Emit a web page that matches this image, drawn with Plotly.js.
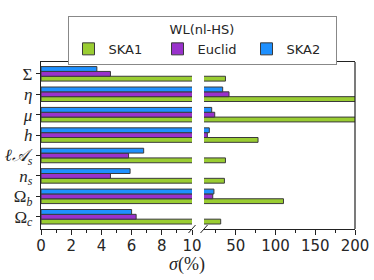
<!DOCTYPE html>
<html>
<head>
<meta charset="utf-8">
<script src="https://cdn.plot.ly/plotly-3.0.1.min.js"></script>
<style>html,body{margin:0;padding:0;background:#fff;}#chart{width:374px;height:280px;}</style>
</head>
<body>
<div id="chart"></div>
<script>
// Parameters, top to bottom as shown
const categories = ["Σ", "<i>η</i>", "<i>μ</i>", "<i>h</i>", "<i>ℓ𝒜<sub>s</sub></i>", "<i>n<sub>s</sub></i>", "Ω<sub><i>b</i></sub>", "Ω<sub><i>c</i></sub>"];
const seriesNames = ["SKA1", "Euclid", "SKA2"];
const ska1   = [37, 260, 260, 78, 37, 35.7, 110, 31];
const euclid = [4.6, 41.5, 23.5, 14.2, 5.8, 4.6, 21, 6.3];
const ska2   = [3.7, 33.5, 19.7, 16.7, 6.8, 5.9, 22.5, 6.0];
const colors = ["#9acd32", "#9932cc", "#1e90ff"];
const leftTicks = [0, 2, 4, 6, 8, 10];
const rightTicks = [50, 100, 150, 200];
const rightMinor = [25, 75, 125, 175];

const values = [ska1, euclid, ska2];
const W = 374, H = 280, L = 41, R = 19, T = 62, B = 51;
const pw = W - L - R, ph = H - T - B;
const fx = px => (px - L) / pw;
const fy = py => (H - B - py) / ph;

const traces = [];
["x", "x2"].forEach((xa, k) => {
  values.forEach((v, i) => {
    traces.push({
      type: "bar", orientation: "h",
      x: v, y: categories, xaxis: xa, yaxis: "y",
      name: seriesNames[i], legendgroup: seriesNames[i],
      showlegend: k === 0,
      marker: {color: colors[i], line: {color: "#3a3a3a", width: 1}},
      hoverinfo: "skip"
    });
  });
});

const axisCommon = {
  showline: true, mirror: true, linecolor: "#222", linewidth: 1.2,
  ticks: "outside", ticklen: 5, tickwidth: 1, tickcolor: "#222",
  showgrid: false, zeroline: false, ticklabelstandoff: -2,
  tickfont: {family: "DejaVu Sans", size: 15, color: "#262626"}
};

const splitL = fx(192), splitR = fx(204);

function slash(cx, cy) {
  return {type: "line", xref: "paper", yref: "paper",
    x0: fx(cx - 3.5), y0: fy(cy + 4), x1: fx(cx + 3.5), y1: fy(cy - 4),
    line: {color: "#222", width: 1}};
}

const layout = {
  width: W, height: H,
  margin: {l: L, r: R, t: T, b: B},
  paper_bgcolor: "#fff", plot_bgcolor: "#fff",
  barmode: "group", bargap: 0.29, bargroupgap: 0,
  showlegend: true,
  legend: {
    orientation: "h", xref: "paper", yref: "paper",
    x: fx(202), xanchor: "center", y: fy(16), yanchor: "top",
    bordercolor: "#888", borderwidth: 1, bgcolor: "#fff",
    font: {family: "DejaVu Sans", size: 13, color: "#262626"},
    title: {text: "WL(nl-HS)", side: "top center", font: {family: "DejaVu Sans", size: 13, color: "#262626"}},
    entrywidth: 44, entrywidthmode: "pixels", traceorder: "normal", itemclick: false
  },
  xaxis: Object.assign({}, axisCommon, {
    domain: [0, splitL], range: [0, 10], anchor: "y",
    tickvals: leftTicks, ticktext: leftTicks.map(String),
    minor: {dtick: 1, ticks: "outside", ticklen: 3, tickcolor: "#222"}
  }),
  xaxis2: Object.assign({}, axisCommon, {
    domain: [splitR, 1], range: [10, 200], anchor: "y",
    tickvals: rightTicks, ticktext: rightTicks.map(String),
    minor: {tickvals: rightMinor, ticks: "outside", ticklen: 3, tickcolor: "#222"}
  }),
  yaxis: {
    type: "category", categoryorder: "array", categoryarray: categories.slice().reverse(),
    tickmode: "array", tickvals: categories, ticktext: categories,
    range: [-0.6, 7.58], anchor: "x",
    showline: true, linecolor: "#222", linewidth: 1.2, mirror: false,
    ticks: "outside", ticklen: 4, tickcolor: "#222", showgrid: false, zeroline: false,
    tickfont: {family: "Liberation Serif", size: 17, color: "#262626"}
  },
  shapes: [
    {type: "line", xref: "paper", yref: "paper", x0: 1, x1: 1, y0: 0, y1: 1, line: {color: "#222", width: 1.2}},
    slash(192, 61), slash(204, 61), slash(192, 229), slash(204, 229)
  ],
  annotations: [
    {text: "<i>σ</i>(%)", xref: "paper", yref: "paper", x: fx(187), y: fy(264),
     xanchor: "center", yanchor: "middle", showarrow: false,
     font: {family: "Liberation Serif", size: 18, color: "#262626"}}
  ]
};

Plotly.newPlot("chart", traces, layout, {staticPlot: true, displayModeBar: false});
</script>
</body>
</html>
